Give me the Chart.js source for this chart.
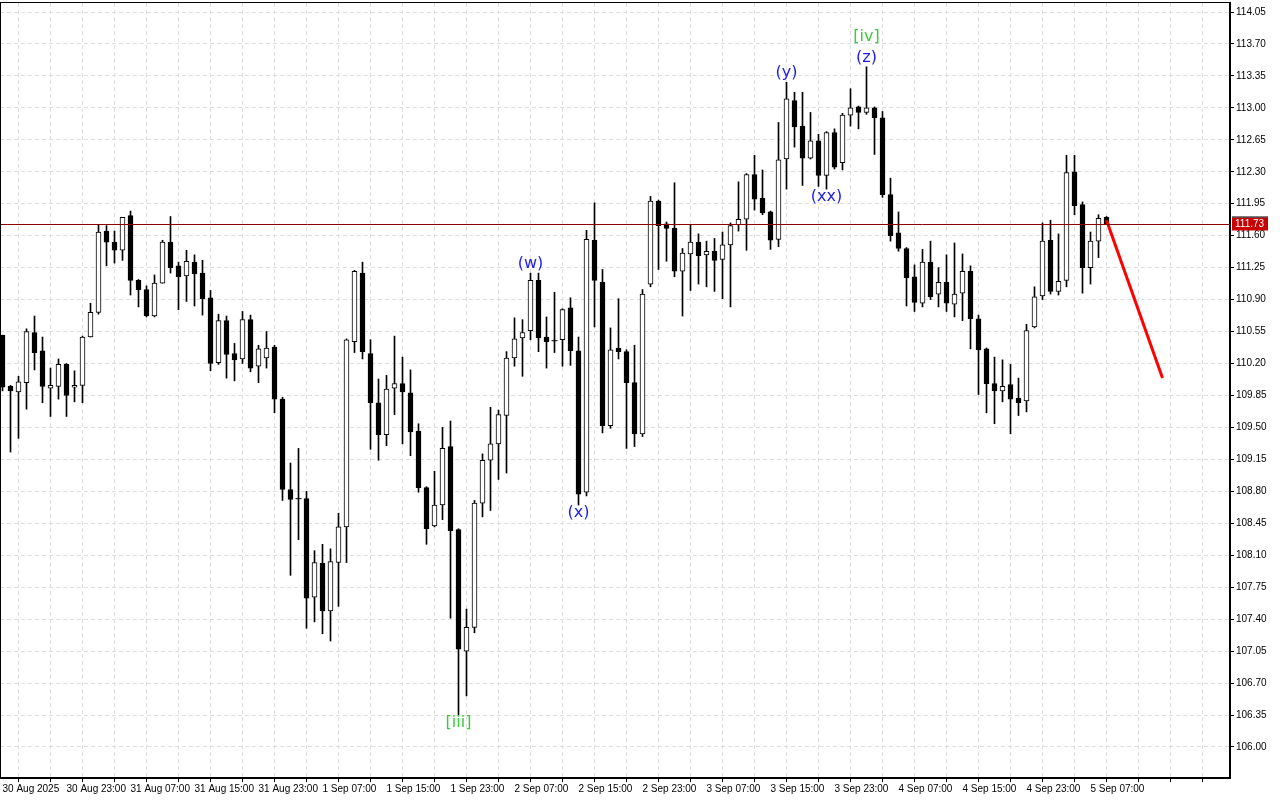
<!DOCTYPE html>
<html>
<head>
<meta charset="utf-8">
<title>H1 candles</title>
<script src="https://cdn.jsdelivr.net/npm/chart.js@4.4.1/dist/chart.umd.min.js"></script>
<style>
    html, body { margin: 0; padding: 0; background: #ffffff; }
    #wrap { width: 1280px; height: 800px; }
</style>
</head>
<body>
<div id="wrap"><canvas id="chart" width="1280" height="800"></canvas></div>
<script>
// time axis labels, one every 8 hourly bars
var timeLabels = ['30 Aug 2025', '30 Aug 23:00', '31 Aug 07:00', '31 Aug 15:00', '31 Aug 23:00', '1 Sep 07:00',
    '1 Sep 15:00', '1 Sep 23:00', '2 Sep 07:00', '2 Sep 15:00', '2 Sep 23:00', '3 Sep 07:00', '3 Sep 15:00',
    '3 Sep 23:00', '4 Sep 07:00', '4 Sep 15:00', '4 Sep 23:00', '5 Sep 07:00'];

// price axis labels
var priceTicks = [106.00, 106.35, 106.70, 107.05, 107.40, 107.75, 108.10, 108.45, 108.80, 109.15, 109.50, 109.85,
    110.20, 110.55, 110.90, 111.25, 111.60, 111.95, 112.30, 112.65, 113.00, 113.35, 113.70, 114.05];

// OHLC
var openP = [110.51, 109.95, 109.89, 109.99, 110.54, 110.34, 109.93, 109.95, 110.19, 109.94,
    109.96, 110.49, 110.76, 111.65, 111.53, 111.44, 111.82, 111.11, 111.01, 110.72,
    111.08, 111.53, 111.27, 111.16, 111.31, 111.19, 110.92, 110.21, 110.67, 110.31,
    110.25, 110.68, 110.17, 110.26, 110.38, 109.81, 108.82, 108.72, 108.72, 107.64,
    108.01, 107.49, 108.02, 108.41, 110.44, 111.19, 110.31, 109.77, 109.42, 109.93,
    109.98, 109.88, 109.46, 108.84, 108.42, 108.65, 109.29, 108.38, 107.05, 107.31,
    108.67, 109.14, 109.32, 109.63, 110.26, 110.48, 110.56, 111.11, 110.49, 110.45,
    110.46, 110.81, 110.34, 108.79, 111.55, 111.09, 109.52, 110.37, 110.33, 109.99,
    109.43, 111.07, 111.98, 111.73, 111.68, 111.21, 111.40, 111.53, 111.39, 111.43,
    111.34, 111.50, 111.72, 111.78, 112.27, 112.01, 111.86, 111.56, 112.44, 113.08,
    112.80, 112.45, 112.64, 112.26, 112.73, 112.40, 112.92, 113.01, 112.95, 113.00,
    112.89, 112.05, 111.63, 111.46, 111.15, 110.86, 111.31, 110.96, 111.09, 110.85,
    110.97, 111.21, 110.69, 110.36, 109.98, 109.90, 109.97, 109.82, 109.79, 110.60,
    110.94, 111.55, 110.99, 111.11, 112.30, 111.94, 111.25, 111.54, 111.80];

var highP = [110.51, 109.96, 110.06, 110.58, 110.72, 110.49, 110.15, 110.25, 110.20, 110.12,
    110.50, 110.86, 111.72, 111.71, 111.65, 111.80, 111.87, 111.12, 111.05, 111.17,
    111.55, 111.81, 111.31, 111.44, 111.39, 111.33, 111.00, 110.74, 110.72, 110.42,
    110.77, 110.73, 110.40, 110.55, 110.40, 109.83, 109.11, 109.27, 108.80, 108.15,
    108.22, 108.17, 108.56, 110.47, 111.22, 111.31, 110.46, 110.03, 110.07, 110.50,
    110.27, 110.13, 109.54, 108.85, 109.02, 109.50, 109.57, 108.39, 107.51, 108.70,
    109.21, 109.72, 109.69, 110.33, 110.70, 110.68, 111.19, 111.19, 110.71, 110.98,
    110.80, 110.92, 110.49, 111.66, 111.96, 111.23, 110.59, 110.91, 110.35, 110.40,
    111.01, 112.03, 111.99, 111.75, 112.18, 111.46, 111.72, 111.62, 111.54, 111.57,
    111.64, 111.74, 112.19, 112.28, 112.48, 112.32, 111.87, 112.84, 113.28, 113.17,
    113.17, 112.95, 112.71, 112.74, 112.77, 112.94, 113.21, 113.02, 113.45, 113.01,
    112.96, 112.23, 111.86, 111.47, 111.28, 111.45, 111.54, 111.25, 111.39, 111.52,
    111.40, 111.27, 110.73, 110.37, 110.27, 110.24, 110.19, 110.04, 110.63, 111.04,
    111.74, 111.77, 111.62, 112.48, 112.48, 111.97, 111.64, 111.83, 111.81];

var lowP = [109.90, 109.23, 109.38, 109.70, 110.13, 109.77, 109.62, 109.81, 109.62, 109.78,
    109.77, 110.49, 110.74, 111.27, 111.30, 111.33, 110.95, 110.82, 110.71, 110.71,
    111.08, 111.19, 110.79, 110.88, 110.83, 110.73, 110.12, 110.19, 110.04, 110.01,
    110.20, 110.11, 109.99, 110.15, 109.66, 108.70, 107.88, 108.27, 107.30, 107.37,
    107.24, 107.16, 107.54, 108.02, 110.32, 110.25, 109.26, 109.14, 109.30, 109.64,
    109.32, 109.19, 108.79, 108.22, 108.41, 108.49, 107.41, 106.35, 106.56, 107.25,
    108.52, 108.59, 108.93, 109.00, 110.17, 110.06, 110.46, 110.33, 110.15, 110.32,
    110.17, 110.18, 108.65, 108.75, 110.60, 109.44, 109.49, 110.25, 109.27, 109.29,
    109.40, 111.04, 111.23, 111.32, 111.15, 110.72, 111.00, 111.07, 111.04, 110.99,
    110.91, 110.82, 111.65, 111.44, 111.88, 111.83, 111.45, 111.48, 112.11, 112.57,
    112.15, 112.44, 112.14, 112.11, 112.33, 112.32, 112.80, 112.77, 112.93, 112.49,
    112.02, 111.54, 111.43, 110.83, 110.77, 110.82, 110.90, 110.82, 110.77, 110.71,
    110.67, 110.36, 109.86, 109.66, 109.54, 109.78, 109.43, 109.63, 109.67, 110.59,
    110.90, 110.96, 110.95, 111.04, 111.83, 110.97, 111.07, 111.36, 111.73];

var closeP = [109.94, 109.90, 110.00, 110.55, 110.32, 109.95, 109.96, 110.19, 109.85, 109.96,
    110.49, 110.76, 111.64, 111.53, 111.44, 111.80, 111.11, 111.01, 110.72, 111.08,
    111.53, 111.25, 111.15, 111.32, 111.18, 110.91, 110.20, 110.67, 110.30, 110.24,
    110.68, 110.15, 110.36, 110.37, 109.81, 108.82, 108.71, 108.72, 107.63, 108.02,
    107.49, 108.03, 108.41, 110.46, 111.21, 110.33, 109.77, 109.42, 109.92, 109.98,
    109.89, 109.45, 108.84, 108.39, 108.65, 109.27, 108.37, 107.07, 107.31, 108.67,
    109.14, 109.32, 109.64, 110.26, 110.47, 110.54, 111.11, 110.48, 110.44, 110.45,
    110.79, 110.34, 108.77, 111.56, 111.11, 109.52, 110.35, 110.33, 109.99, 109.43,
    110.96, 111.98, 111.71, 111.68, 111.21, 111.41, 111.53, 111.38, 111.43, 111.33,
    111.50, 111.71, 111.78, 112.27, 112.00, 111.85, 111.55, 112.43, 113.10, 112.79,
    112.45, 112.64, 112.26, 112.73, 112.35, 112.92, 113.00, 112.95, 113.00, 112.89,
    112.05, 111.60, 111.46, 111.14, 110.87, 111.31, 110.93, 111.09, 110.86, 110.96,
    111.21, 110.69, 110.35, 109.98, 109.90, 109.95, 109.81, 109.77, 110.56, 110.93,
    111.54, 110.99, 111.10, 112.29, 111.93, 111.25, 111.54, 111.79, 111.73];

// projected move drawn on the chart
var forecastBar = [138, 145];
var forecastPrice = [111.77, 110.04];

// wave count marks
var waveText = ['[iii]', '(w)', '(x)', '(y)', '(xx)', '(z)', '[iv]'];
var waveBar = [57, 66, 72, 98, 103, 108, 108];

var idx = closeP.map(function (v, i) { return i; });
var bodyData = idx.map(function (i) { return { x: i, y: [openP[i], closeP[i]] }; });
var wickData = idx.map(function (i) { return { x: i, y: [lowP[i], highP[i]] }; });
var bodyFill = idx.map(function (i) { return closeP[i] > openP[i] ? '#ffffff' : '#000000'; });
var dojiData = idx.filter(function (i) { return openP[i] === closeP[i]; })
    .map(function (i) { return { x: i, y: closeP[i] }; });
var forecastData = forecastBar.map(function (b, i) { return { x: b, y: forecastPrice[i] }; });

var axisFont = { family: 'Liberation Sans', size: 10 };

// no extra room for edge labels, the plot should fill the canvas
function noPad(s) {
    s.paddingLeft = 0;
    s.paddingRight = 0;
    s.paddingTop = 0;
    s.paddingBottom = 0;
}

// frame, bid line + price box, wave labels
var decor = {
    id: 'decor',
    afterDatasetsDraw: function (chart) {
        var ctx = chart.ctx, a = chart.chartArea;
        var xs = chart.scales.x, ys = chart.scales.y;
        ctx.save();

        // bid line
        var last = closeP[closeP.length - 1];
        var yb = Math.round(ys.getPixelForValue(last)) + 0.5;
        ctx.strokeStyle = '#8b0000';
        ctx.lineWidth = 1;
        ctx.beginPath();
        ctx.moveTo(a.left, yb);
        ctx.lineTo(a.right, yb);
        ctx.stroke();

        // wave labels
        ctx.font = '16px "DejaVu Sans"';
        ctx.textAlign = 'center';
        ctx.textBaseline = 'middle';
        waveText.forEach(function (t, i) {
            var b = waveBar[i];
            var x = xs.getPixelForValue(b);
            var green = t.charAt(0) === '[';
            var y;
            if (t === '[iv]') {
                y = ys.getPixelForValue(highP[b]) - 30;
            } else if (t === '(w)' || t === '(y)' || t === '(z)') {
                y = ys.getPixelForValue(highP[b]) - 9;
            } else {
                y = ys.getPixelForValue(lowP[b]) + 8;
            }
            ctx.fillStyle = green ? '#3ccc3c' : '#1c1cf0';
            ctx.fillText(t, x, y);
        });

        // frame
        ctx.strokeStyle = '#000000';
        ctx.lineWidth = 1;
        ctx.strokeRect(a.left + 0.5, a.top - 0.5, a.right - a.left, a.bottom - a.top + 1);

        // price box
        ctx.fillStyle = '#c80000';
        ctx.fillRect(a.right + 2, yb - 7, 36, 13);
        ctx.fillStyle = '#000000';
        ctx.fillRect(a.right + 2, yb - 8, 36, 1);
        ctx.fillStyle = '#ffffff';
        ctx.font = '10px "Liberation Sans"';
        ctx.textAlign = 'left';
        ctx.fillText(last.toFixed(2), a.right + 5, yb);
        ctx.restore();
    }
};

var chart = new Chart(document.getElementById('chart'), {
    type: 'bar',
    data: {
        datasets: [{
            type: 'line',
            data: forecastData,
            borderColor: '#ff0000',
            borderWidth: 3,
            pointRadius: 0,
            order: 0
        }, {
            type: 'line',
            data: dojiData,
            showLine: false,
            pointStyle: 'line',
            pointRadius: 3,
            pointBorderWidth: 1,
            pointBorderColor: '#000000',
            order: 1
        }, {
            data: bodyData,
            backgroundColor: bodyFill,
            borderColor: '#000000',
            borderWidth: 1,
            borderSkipped: false,
            barThickness: 5,
            grouped: false,
            order: 2
        }, {
            data: wickData,
            backgroundColor: '#000000',
            borderWidth: 0,
            barThickness: 1,
            grouped: false,
            order: 3
        }]
    },
    options: {
        responsive: false,
        animation: false,
        layout: { autoPadding: false, padding: { top: 3, left: 0, right: 0, bottom: 0 } },
        plugins: { legend: { display: false }, tooltip: { enabled: false } },
        scales: {
            x: {
                type: 'linear',
                min: -0.3125,
                max: 153.4375,
                offset: false,
                afterBuildTicks: function (s) {
                    s.ticks = [];
                    for (var t = 0; t <= 152; t += 4) s.ticks.push({ value: t });
                },
                afterFit: function (s) { s.height = 22; noPad(s); },
                ticks: {
                    autoSkip: false,
                    maxRotation: 0,
                    align: 'start',
                    padding: 1,
                    color: '#000000',
                    font: axisFont,
                    callback: function (v) {
                        return (v % 8 === 0 && timeLabels[v / 8]) ? timeLabels[v / 8] : '';
                    }
                },
                grid: { color: '#dedede', tickColor: '#000000', tickLength: 4 },
                border: { color: '#000000', width: 2, dash: [4, 3] }
            },
            y: {
                position: 'right',
                min: 105.66,
                max: 114.1486,
                afterBuildTicks: function (s) {
                    s.ticks = priceTicks.map(function (p) { return { value: p }; });
                },
                afterFit: function (s) { s.width = 50; noPad(s); },
                ticks: {
                    padding: 2,
                    color: '#000000',
                    font: axisFont,
                    callback: function (v) { return v.toFixed(2); }
                },
                grid: { color: '#dedede', tickColor: '#000000', tickLength: 4 },
                border: { color: '#000000', width: 2, dash: [4, 3] }
            }
        }
    },
    plugins: [decor]
});
</script>
</body>
</html>
